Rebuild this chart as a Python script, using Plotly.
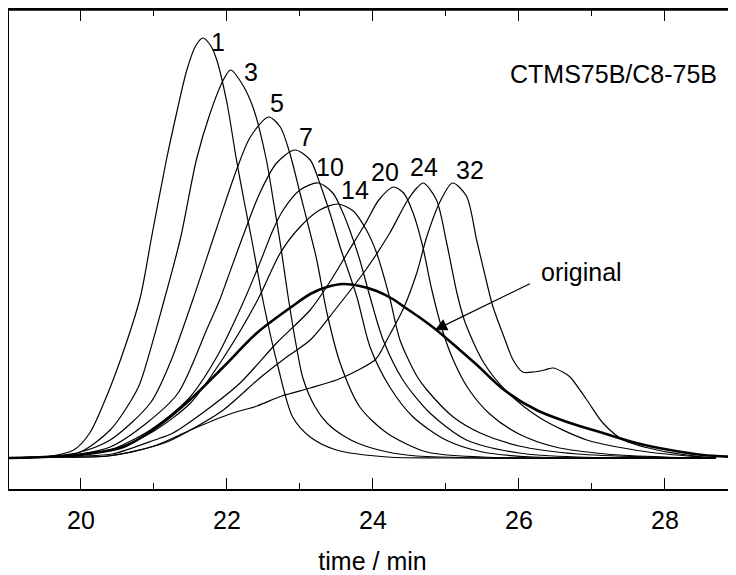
import plotly.graph_objects as go

# ---- data (time in min, signal in arbitrary units) ----
t_1 = [19.0, 19.5, 19.9, 20.12, 20.33, 20.55, 20.81, 20.97, 21.17, 21.31, 21.45, 21.57, 21.67, 21.78, 21.86, 22.0, 22.13, 22.25, 22.34, 22.5, 22.7, 22.9, 23.14, 23.5, 24.2, 25.0, 26.5, 28.7]
y_1 = [0, 1, 8, 25, 58, 100, 160, 222, 298, 345, 388, 412, 420, 412, 398, 355, 298, 251, 218, 155, 91, 41, 21, 8, 1, 0, 0, 0]

t_3 = [19.0, 19.5, 19.99, 20.4, 20.69, 20.81, 21.14, 21.37, 21.58, 21.77, 21.95, 22.05, 22.2, 22.36, 22.54, 22.64, 22.74, 22.84, 22.95, 23.04, 23.2, 23.37, 23.6, 23.82, 24.2, 24.6, 25.5, 28.7]
y_3 = [0, 1, 6, 28, 58, 75, 158, 222, 298, 345, 378, 388, 375, 350, 298, 255, 210, 160, 112, 80, 52, 35, 22, 14, 6, 2, 0, 0]

t_5 = [19.0, 19.5, 19.94, 20.4, 20.95, 21.22, 21.54, 21.85, 22.13, 22.32, 22.57, 22.73, 22.86, 23.0, 23.14, 23.23, 23.37, 23.55, 23.82, 24.19, 24.74, 25.5, 28.7]
y_5 = [0, 1, 5, 18, 55, 95, 160, 228, 288, 321, 341, 331, 305, 265, 225, 198, 145, 95, 51, 25, 6, 1, 0]

t_7 = [19.0, 19.5, 19.9, 20.4, 20.9, 21.33, 21.72, 21.9, 22.0, 22.25, 22.45, 22.68, 22.93, 23.14, 23.27, 23.41, 23.55, 23.78, 23.96, 24.23, 24.55, 25.0, 25.5, 26.2, 28.7]
y_7 = [0, 1, 3, 11, 35, 65, 128, 158, 178, 228, 265, 295, 308, 298, 275, 245, 211, 161, 111, 71, 41, 18, 6, 1, 0]

t_10 = [19.0, 19.5, 20.0, 20.4, 20.95, 21.47, 21.86, 22.2, 22.45, 22.63, 22.77, 23.0, 23.25, 23.45, 23.59, 23.73, 23.82, 23.96, 24.14, 24.41, 24.78, 25.28, 26.0, 26.8, 28.7]
y_10 = [0, 1, 3, 8, 28, 59, 101, 152, 195, 228, 248, 268, 275, 265, 245, 218, 198, 161, 118, 78, 45, 18, 5, 1, 0]

t_14 = [19.0, 19.5, 19.9, 20.5, 21.0, 21.5, 21.95, 22.42, 22.73, 23.0, 23.27, 23.52, 23.73, 23.91, 24.05, 24.23, 24.37, 24.6, 24.74, 25.1, 25.47, 26.0, 26.8, 27.8, 28.7]
y_14 = [0, 1, 2, 10, 27, 55, 100, 158, 205, 231, 248, 254, 247, 228, 205, 160, 118, 82, 68, 41, 25, 12, 4, 1, 0]

t_20 = [19.0, 19.5, 20.0, 20.43, 21.01, 21.26, 21.72, 22.18, 22.68, 23.14, 23.4, 23.65, 23.9, 24.08, 24.28, 24.42, 24.55, 24.68, 24.8, 24.95, 25.1, 25.3, 25.6, 26.0, 26.5, 27.2, 28.0, 28.7]
y_20 = [0, 1, 2, 4, 18, 25, 48, 75, 115, 148, 175, 205, 235, 258, 271, 265, 245, 212, 170, 128, 98, 70, 44, 24, 11, 4, 1, 0]

t_24 = [19.0, 19.5, 20.37, 21.14, 21.5, 21.95, 22.45, 22.8, 23.14, 23.5, 23.9, 24.23, 24.46, 24.6, 24.69, 24.87, 25.01, 25.15, 25.26, 25.52, 25.84, 26.29, 26.93, 27.77, 28.5, 28.7]
y_24 = [0, 1, 2, 15, 28, 48, 80, 100, 118, 150, 188, 225, 256, 270, 275, 258, 215, 165, 136, 95, 66, 40, 18, 6, 1, 0]

t_32 = [19.0, 19.5, 20.37, 21.0, 21.5, 22.04, 22.41, 22.75, 23.14, 23.5, 23.8, 24.04, 24.19, 24.42, 24.6, 24.74, 24.93, 25.09, 25.28, 25.42, 25.56, 25.64, 25.79, 25.92, 26.05, 26.2, 26.35, 26.47, 26.6, 26.7, 26.93, 27.15, 27.43, 27.89, 28.41, 28.7]
y_32 = [0, 1, 2, 12, 28, 44, 52, 62, 70, 78, 88, 99, 118, 150, 185, 222, 258, 275, 262, 218, 175, 152, 122, 98, 86, 86, 88, 90, 86, 81, 58, 35, 18, 8, 2, 0]

t_orig = [19.0, 19.5, 19.95, 20.58, 21.04, 21.49, 21.95, 22.41, 22.9, 23.14, 23.37, 23.59, 23.82, 24.05, 24.27, 24.41, 24.65, 24.87, 25.19, 25.44, 25.78, 26.24, 26.7, 27.15, 27.61, 28.07, 28.52, 29.0]
y_orig = [0, 1, 3, 11, 31, 58, 91, 125, 152, 164, 171, 174, 172, 167, 159, 152, 140, 128, 108, 92, 69, 48, 35, 25, 15, 8, 3, 1]

curve_names = ["1", "3", "5", "7", "10", "14", "20", "24", "32"]
curve_t = [t_1, t_3, t_5, t_7, t_10, t_14, t_20, t_24, t_32]
curve_y = [y_1, y_3, y_5, y_7, y_10, y_14, y_20, y_24, y_32]

# label anchor positions (time, signal)
label_t = [21.88, 22.33, 22.68, 23.08, 23.41, 23.75, 24.16, 24.70, 25.33]
label_y = [416, 386, 355, 321, 291, 268, 286, 291, 288]

x_ticks = [20, 22, 24, 26, 28]
title_text = "CTMS75B/C8-75B"
x_title = "time / min"

FONT = "Liberation Sans, Arial, sans-serif"
FS = 25

fig = go.Figure()
for name, tt, yy in zip(curve_names, curve_t, curve_y):
    fig.add_trace(go.Scatter(x=tt, y=yy, mode="lines", name=name,
                             line=dict(color="black", width=1.2, shape="spline", smoothing=0.8)))
fig.add_trace(go.Scatter(x=t_orig, y=y_orig, mode="lines", name="original",
                         line=dict(color="black", width=2.6, shape="spline", smoothing=0.8)))

for name, lt, ly in zip(curve_names, label_t, label_y):
    fig.add_annotation(x=lt, y=ly, text=name, showarrow=False,
                       font=dict(size=FS, color="black", family=FONT),
                       xanchor="center", yanchor="middle")

fig.add_annotation(x=27.30, y=384, text=title_text, showarrow=False,
                   font=dict(size=FS, color="black", family=FONT),
                   xanchor="center", yanchor="middle")

# "original" label with arrow
fig.add_annotation(x=24.85, y=128, ax=26.17, ay=175, axref="x", ayref="y",
                   text="", showarrow=True, arrowhead=2, arrowsize=2.0,
                   arrowwidth=1.2, arrowcolor="black")
fig.add_annotation(x=26.85, y=186, text="original", showarrow=False,
                   font=dict(size=FS, color="black", family=FONT),
                   xanchor="center", yanchor="middle")

# top frame line (plot area border)
fig.add_shape(type="line", xref="paper", yref="paper", x0=0, x1=1, y0=1, y1=1,
              line=dict(color="black", width=1.5))

fig.update_layout(
    width=728, height=567,
    margin=dict(l=1, r=0, t=2, b=86, autoexpand=False),
    paper_bgcolor="white", plot_bgcolor="white",
    showlegend=False,
    font=dict(family=FONT, size=FS, color="black"),
)
fig.update_xaxes(
    range=[19.014, 28.973], tickvals=x_ticks, ticks="inside", ticklen=11, tickwidth=1.2,
    tickcolor="black", showline=True, linecolor="black", linewidth=1.5, mirror="ticks",
    showgrid=False, zeroline=False, ticklabelstandoff=8,
    minor=dict(dtick=1, tick0=19, ticks="inside", ticklen=6, tickwidth=1.2, tickcolor="black"),
    tickfont=dict(size=FS, color="black", family=FONT),
    title=dict(text=x_title, font=dict(size=FS, color="black", family=FONT), standoff=26),
)
fig.update_yaxes(
    range=[-31, 448], showticklabels=False, ticks="", showline=True, linecolor="black",
    linewidth=1.5, mirror=False, showgrid=False, zeroline=False,
)

fig.write_html("out.html")
